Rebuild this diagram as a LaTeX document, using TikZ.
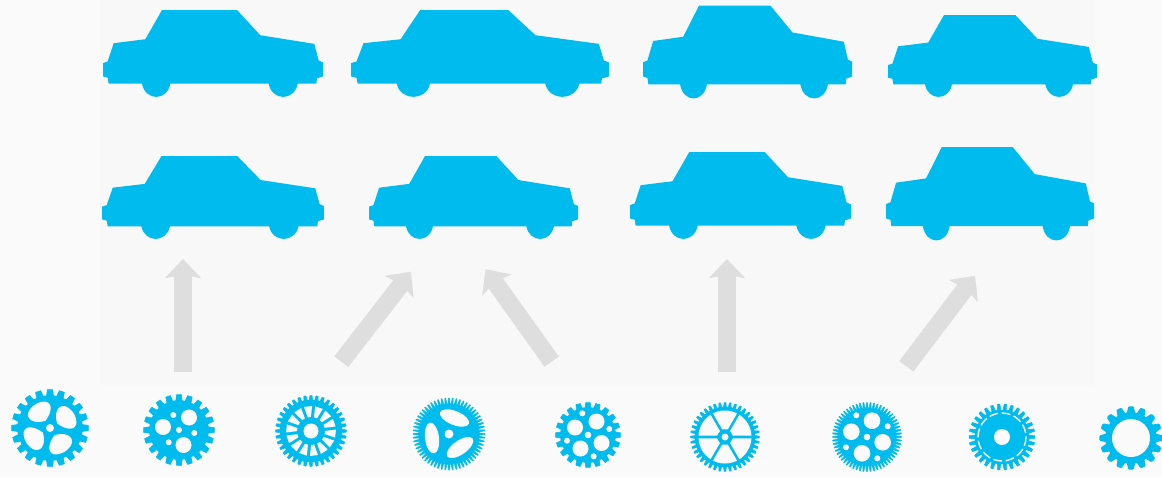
\documentclass[tikz,border=0pt]{standalone}
\usetikzlibrary{arrows.meta}
\definecolor{bgc}{HTML}{FAFAFA}
\definecolor{bgd}{HTML}{F8F8F8}
\definecolor{blu}{HTML}{00BBEE}
\definecolor{gry}{HTML}{DEDEDE}
\tikzset{
  blue fill/.style={fill=blu},
  hole/.style={fill=bgc},
  bigarrow/.style={draw=gry,line width=17.5pt,-{Stealth[inset=3pt,width=35.5pt,length=19pt,fill=gry]}},
}
% x,y,w,h
\newcommand\carshape[4]{%
\begin{scope}[shift={(#1,#2)},xscale=#3/660,yscale=#4/262]
\fill[blue fill] (0,160)--(14,155)--(32,100)--(127,88)--(177,0)--(402,0)--(472,76)--(634,102)--(647,152)--(660,158)--(660,200)--(642,206)--(640,222)--(584,222)
 .. controls (574,275) and (507,275) .. (497,222)--(202,222)
 .. controls (192,275) and (127,275) .. (117,222)--(17,222)--(14,204)--(0,200)--cycle;
\end{scope}}
% r outer, r root, teeth, rotation, root half frac, tip half frac
\newcommand\gearbody[6]{%
\pgfmathsetmacro\pp{360/#3}%
\pgfmathtruncatemacro\nn{#3-1}%
\fill[blue fill,draw=blu,line width=0.5pt,line join=round] (#4-#5*\pp:#2)
 foreach \ii in {0,...,\nn} {
  -- ({#4+\ii*\pp-#5*\pp}:#2) -- ({#4+\ii*\pp-#6*\pp}:#1) -- ({#4+\ii*\pp+#6*\pp}:#1) -- ({#4+\ii*\pp+#5*\pp}:#2)
 } -- cycle;}
\newcommand\rh[3]{\fill[hole] (#1,#2) circle (#3);}
\begin{document}
\begin{tikzpicture}[x=1pt,y=-1pt]
\useasboundingbox (0,0) rectangle (1162,477);
\fill[bgc] (0,0) rectangle (1162,477);
\fill[bgd] (100,0) rectangle (1095,385);
% cars
\carshape{103}{10}{220}{87}
\carshape{351}{10}{258}{87}
\carshape{643}{5.5}{209}{93}
\carshape{888}{15}{209}{82}
\carshape{102}{156}{222}{83}
\carshape{369}{156}{209}{83}
\carshape{630}{152}{221}{87}
\carshape{886}{147}{208}{93.5}
% arrows
\coordinate (a1s) at (183,372); \coordinate (a1e) at (183,259);
\coordinate (a2s) at (341.3,361.7); \coordinate (a2e) at (411,271.7);
\coordinate (a3s) at (551.7,361.7); \coordinate (a3e) at (485.7,269.3);
\coordinate (a4s) at (727,372); \coordinate (a4e) at (727,259);
\coordinate (a5s) at (906.3,366.3); \coordinate (a5e) at (975,275.7);
\draw[bigarrow] (a1s)--(a1e);
\draw[bigarrow] (a2s)--(a2e);
\draw[bigarrow] (a3s)--(a3e);
\draw[bigarrow] (a4s)--(a4e);
\draw[bigarrow] (a5s)--(a5e);
% gear 1
\begin{scope}[shift={(50,428)}]
\gearbody{38.5}{32.5}{20}{0}{0.34}{0.22}
\foreach \t in {-32,58,148,238}{
 \fill[hole] (\t:8.5) .. controls (\t-40:14) and (\t-42:24) .. (\t-24:26.5) .. controls (\t-10:29.5) and (\t+10:29.5) .. (\t+24:26.5) .. controls (\t+42:24) and (\t+32:13) .. (\t:8.5) -- cycle;}
\rh{0}{0}{4}
\end{scope}
% gear 2
\begin{scope}[shift={(179,430)}]
\gearbody{35.5}{29.5}{20}{0}{0.34}{0.22}
\rh{10}{-12.5}{8}\rh{-16}{-3}{8}\rh{4.5}{15}{8}
\rh{-5.7}{-15}{3}\rh{15.3}{3}{3}\rh{-10.3}{12.3}{3}\rh{0}{0}{3}
\end{scope}
% gear 3
\begin{scope}[shift={(311,431)}]
\gearbody{35.5}{31}{36}{0}{0.3}{0.18}
\foreach \k in {0,...,13}{
 \pgfmathsetmacro\t{\k*360/14+6}
 \fill[hole] (\t-6.5:14)--(\t-9.3:25)--(\t+9.3:25)--(\t+6.5:14)--cycle;}
\rh{0}{0}{7.5}
\end{scope}
% gear 4
\begin{scope}[shift={(449,434)}]
\gearbody{36}{30}{60}{0}{0.35}{0.12}
\fill[hole,shift={(5.5,-16)},rotate=-22] (0,0) ellipse [x radius=15.5,y radius=7];
\fill[hole,shift={(-17,4)},rotate=-83] (0,0) ellipse [x radius=15.5,y radius=7];
\fill[hole,shift={(11,13.5)},rotate=35] (0,0) ellipse [x radius=15.5,y radius=7];
\rh{0}{0}{4.5}
\end{scope}
% gear 5
\begin{scope}[shift={(588,435)}]
\gearbody{32.5}{27.5}{20}{0}{0.34}{0.22}
\rh{8.5}{-13.5}{8}\rh{-13}{-7.5}{8}\rh{-7.5}{13.5}{8}\rh{13.5}{8}{8}
\rh{-5.7}{-21.7}{3}\rh{21.3}{-6}{3}\rh{-21}{5.7}{3}\rh{5.7}{21.3}{3}\rh{0}{0}{3.3}
\end{scope}
% gear 6
\begin{scope}[shift={(725,437)}]
\gearbody{34.5}{30}{40}{0}{0.3}{0.16}
\foreach \t in {30,90,150,210,270,330}{
 \fill[hole] (\t-20:8) -- (\t-27:26.5) arc[start angle=\t-27,end angle=\t+27,radius=26.5] -- (\t+20:8) -- cycle;}
\rh{0}{0}{3.5}
\end{scope}
% gear 7
\begin{scope}[shift={(867,437)}]
\gearbody{34.5}{29}{60}{0}{0.35}{0.12}
\rh{5}{-16.3}{8.3}\rh{-15.7}{-5.3}{8.3}\rh{-5}{16.3}{8.3}\rh{15.7}{5.3}{8.3}
\rh{-10.7}{-21.7}{3}\rh{20.7}{-10.7}{3}\rh{-21}{10.3}{3}\rh{10.3}{21.3}{3}\rh{0}{0}{3.3}
\end{scope}
% gear 8
\begin{scope}[shift={(1002,437)}]
\gearbody{33}{27}{30}{0}{0.33}{0.18}
\draw[bgc,line width=1.4pt,dash pattern=on 9pt off 3.5pt] (0,0) circle (24);
\rh{0}{0}{8}
\end{scope}
% gear 9
\begin{scope}[shift={(1131,438)}]
\pgfmathsetmacro\pp{360/16}
\fill[blue fill,draw=blu,line width=2.5pt,line join=round] (-0.3*\pp:24.5)
 foreach \ii in {0,...,15} {
  -- ({\ii*\pp-0.32*\pp}:24.5) -- ({\ii*\pp-0.14*\pp}:30.5) -- ({\ii*\pp+0.14*\pp}:30.5) -- ({\ii*\pp+0.32*\pp}:24.5)
 } -- cycle;
\rh{0}{0}{19}
\end{scope}
\end{tikzpicture}
\end{document}
